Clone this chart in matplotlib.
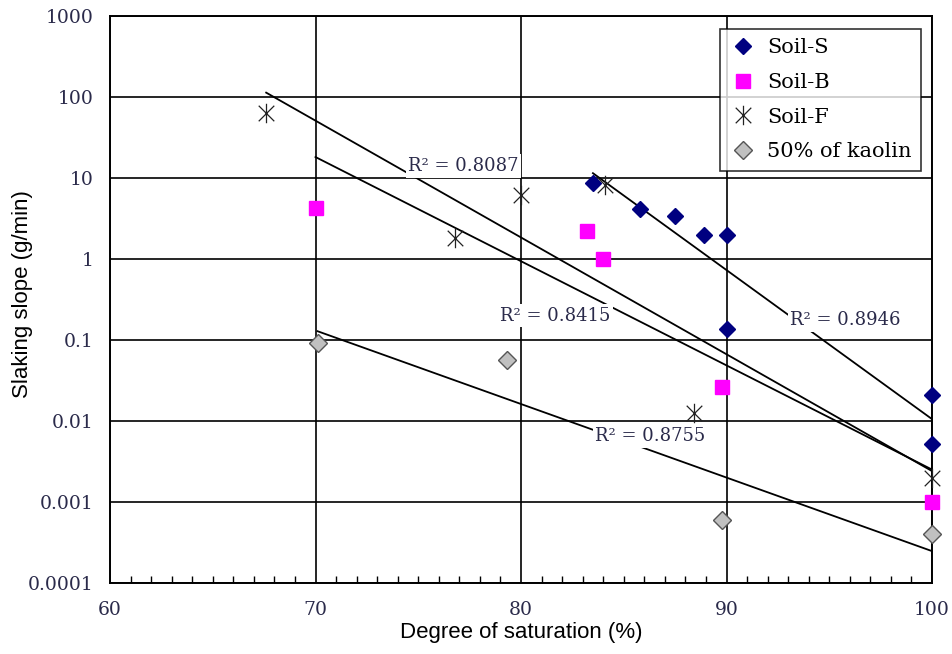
import numpy as np
import matplotlib
matplotlib.use("Agg")
import matplotlib.pyplot as plt
from matplotlib.path import Path
from matplotlib.ticker import MultipleLocator, FixedLocator, FixedFormatter

# 数据
soil_s_x = [83.5, 85.8, 87.5, 88.9, 90.0, 90.0, 100.0, 100.0]
soil_s_y = [8.6, 4.2, 3.4, 2.0, 2.0, 0.135, 0.021, 0.0052]

soil_b_x = [70.0, 83.2, 84.0, 89.8, 100.0]
soil_b_y = [4.3, 2.2, 1.0, 0.026, 0.001]

soil_f_x = [67.6, 76.8, 80.0, 84.1, 88.4, 100.0]
soil_f_y = [64.0, 1.8, 6.1, 8.2, 0.0125, 0.002]

kaolin_x = [70.1, 79.3, 89.8, 100.0]
kaolin_y = [0.091, 0.057, 0.0006, 0.0004]

r2_text = ["R² = 0.8946", "R² = 0.8415", "R² = 0.8087", "R² = 0.8755"]
r2_pos = [(95.8, 0.175), (81.65, 0.2), (77.2, 14.0), (86.3, 0.0065)]

y_ticks = [0.0001, 0.001, 0.01, 0.1, 1, 10, 100, 1000]
y_labels = ["0.0001", "0.001", "0.01", "0.1", "1", "10", "100", "1000"]
x_ticks = [60, 70, 80, 90, 100]

serif = "DejaVu Serif"
sans = "Liberation Sans"
txt_color = "#2a2a4a"

fig = plt.figure(figsize=(9.52, 6.54), dpi=100)
ax = fig.add_axes([110 / 952, 71 / 654, 822 / 952, 567 / 654])

# 星号标记（X + 竖线）
star = Path([(-1, -1), (1, 1), (-1, 1), (1, -1), (0, -1.25), (0, 1.25)],
            [Path.MOVETO, Path.LINETO, Path.MOVETO, Path.LINETO, Path.MOVETO, Path.LINETO])


def trend(x, y):
    # 指数趋势线：ln(y) 对 x 线性回归
    b, a = np.polyfit(x, np.log(y), 1)
    xs = np.linspace(min(x), max(x), 50)
    ax.plot(xs, np.exp(a + b * xs), color="black", lw=1.3, zorder=3)


for xs_, ys_ in [(soil_s_x, soil_s_y), (soil_b_x, soil_b_y),
                 (soil_f_x, soil_f_y), (kaolin_x, kaolin_y)]:
    trend(xs_, ys_)

ax.plot(soil_s_x, soil_s_y, ls="none", marker="D", ms=8, color="#000080",
        mec="#000080", label="Soil-S", zorder=5, clip_on=False)
ax.plot(soil_b_x, soil_b_y, ls="none", marker="s", ms=10, color="#FF00FF",
        mec="#FF00FF", label="Soil-B", zorder=5, clip_on=False)
ax.plot(soil_f_x, soil_f_y, ls="none", marker=star, ms=14, color="#222222",
        mew=0.9, label="Soil-F", zorder=5, clip_on=False)
ax.plot(kaolin_x, kaolin_y, ls="none", marker="D", ms=9, color="#C0C0C0",
        mec="#555555", mew=1.0, label="50% of kaolin", zorder=5, clip_on=False)

for t, (tx, ty) in zip(r2_text, r2_pos):
    ax.text(tx, ty, t, ha="center", va="center", fontsize=13, family=serif,
            color=txt_color, zorder=6,
            bbox=dict(facecolor="white", edgecolor="none", pad=2))

ax.set_yscale("log")
ax.set_xlim(60, 100)
ax.set_ylim(0.0001, 1000)

ax.yaxis.set_major_locator(FixedLocator(y_ticks))
ax.yaxis.set_major_formatter(FixedFormatter(y_labels))
ax.yaxis.set_minor_locator(FixedLocator([]))
ax.xaxis.set_major_locator(FixedLocator(x_ticks))
ax.xaxis.set_minor_locator(MultipleLocator(1))

ax.grid(True, which="major", color="black", lw=1.2, zorder=1)
ax.set_axisbelow(True)
ax.tick_params(which="major", length=0, labelsize=13.5)
ax.tick_params(axis="y", which="major", pad=12)
ax.tick_params(axis="x", which="major", pad=13)
ax.tick_params(axis="x", which="minor", direction="in", length=5, width=1, color="black")
for lab in ax.get_xticklabels() + ax.get_yticklabels():
    lab.set_family(serif)
    lab.set_color(txt_color)
for s in ax.spines.values():
    s.set_linewidth(1.4)

ax.set_xlabel("Degree of saturation (%)", family=sans, fontsize=16, labelpad=2)
ax.set_ylabel("Slaking slope (g/min)", family=sans, fontsize=16)
ax.yaxis.set_label_coords(-0.094, 0.51)

leg = ax.legend(loc="upper right", bbox_to_anchor=(0.9866, 0.977), frameon=True,
                fancybox=False, prop={"family": serif, "size": 15},
                handlelength=1.3, handletextpad=0.5, labelspacing=0.75,
                borderpad=0.45, borderaxespad=0)
leg.get_frame().set_edgecolor("black")
leg.get_frame().set_linewidth(1.2)
leg.set_zorder(10)

fig.savefig("out.png", dpi=100)
